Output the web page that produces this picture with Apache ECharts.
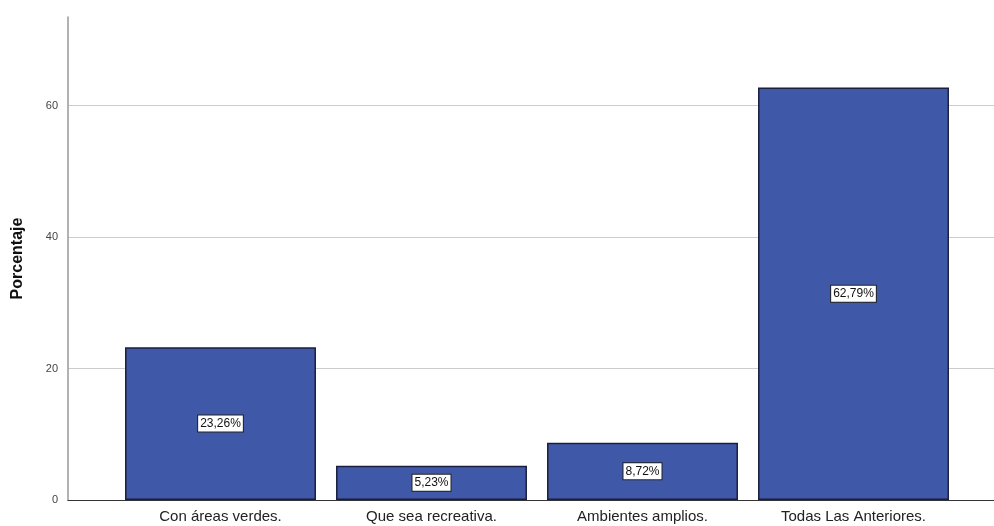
<!DOCTYPE html>
<html>
<head>
<meta charset="utf-8">
<script src="https://cdn.jsdelivr.net/npm/echarts@6/dist/echarts.min.js"></script>
<style>
  html, body { margin: 0; padding: 0; background: #fff; }
  #main { width: 994px; height: 526px; }
</style>
</head>
<body>
<div id="main"></div>
<script>
// categories and percentages
const categories = ['Con áreas verdes.', 'Que sea recreativa.', 'Ambientes amplios.', 'Todas Las Anteriores.'];
const percentages = [23.26, 5.23, 8.72, 62.79];
const yTicks = [0, 20, 40, 60];

const yMin = 0, yMax = 73.5, yStep = 20;
const fontFam = '"Liberation Sans", Arial, sans-serif';

const myChart = echarts.init(document.getElementById('main'));
myChart.setOption({
    animation: false,
    backgroundColor: '#fff',
    grid: [
        { left: 68, right: 0, top: 17, bottom: 26 },
        { left: 115, right: 35, top: 17, bottom: 26 }
    ],
    xAxis: [
        {
            gridIndex: 0, type: 'value', min: 0, max: 1,
            axisLine: { show: true, onZero: false, lineStyle: { color: '#333', width: 1.2 } },
            axisTick: { show: false }, axisLabel: { show: false }, splitLine: { show: false }
        },
        {
            gridIndex: 1, type: 'category', data: categories,
            axisLine: { show: false }, axisTick: { show: false },
            axisLabel: { margin: 9, fontSize: 15, color: '#222', fontFamily: fontFam, interval: 0 }
        }
    ],
    yAxis: [
        {
            gridIndex: 0, type: 'value', min: yMin, max: yMax, interval: yStep,
            name: 'Porcentaje', nameLocation: 'middle', nameGap: 42,
            nameTextStyle: { fontSize: 16, fontWeight: 'bold', color: '#111', fontFamily: fontFam },
            axisLine: { show: true, lineStyle: { color: '#999', width: 1.5 } },
            axisTick: { show: false },
            axisLabel: {
                fontSize: 11, color: '#444', fontFamily: fontFam, margin: 10,
                showMaxLabel: false,
                formatter: v => yTicks.includes(v) ? String(v) : ''
            },
            splitLine: { show: true, showMaxLine: false, lineStyle: { color: '#ccc', width: 1.2 } }
        },
        {
            gridIndex: 1, type: 'value', min: yMin, max: yMax, interval: yStep, show: false,
            splitLine: { show: false }
        }
    ],
    series: [{
        type: 'bar',
        xAxisIndex: 1, yAxisIndex: 1,
        data: percentages,
        barCategoryGap: '9.5%',
        z: 5,
        itemStyle: { color: '#3f59a8', borderColor: '#1b1f3f', borderWidth: 1.5 },
        label: {
            show: true, position: 'inside',
            formatter: p => p.value.toFixed(2).replace('.', ',') + '%',
            fontSize: 12, color: '#111', fontFamily: fontFam,
            backgroundColor: '#fff', borderColor: '#222', borderWidth: 1,
            padding: [2, 2, 2, 2]
        }
    }]
});
</script>
</body>
</html>
